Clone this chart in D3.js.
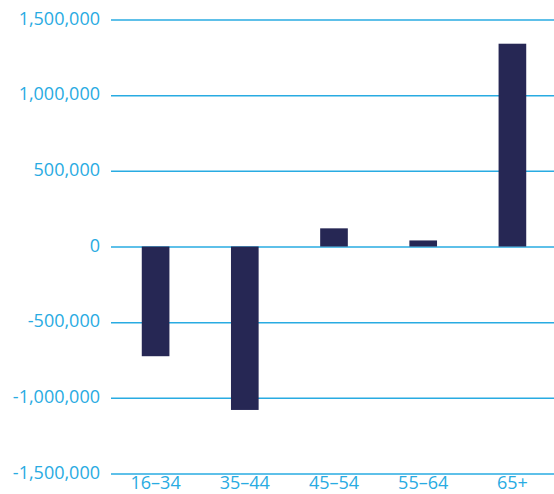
<!DOCTYPE html>
<html>
<head>
<meta charset="utf-8">
<script src="https://cdn.jsdelivr.net/npm/d3@7"></script>
<style>
  body { margin: 0; background: #fff; }
  svg { display: block; font-family: "Open Sans", sans-serif; }
</style>
</head>
<body>
<div id="chart"></div>
<script>
// Data
const ageGroups = ["16–34", "35–44", "45–54", "55–64", "65+"];
const changeValues = [-725000, -1080000, 120000, 40000, 1340000];
const yTicks = [-1500000, -1000000, -500000, 0, 500000, 1000000, 1500000];

const BLUE = "#29abe2";
const BAR_COLOR = "#262754";

const width = 554, height = 494;

const svg = d3.select("#chart")
  .append("svg")
    .attr("width", width)
    .attr("height", height);

// Scales
const xScale = d3.scaleBand()
  .domain(ageGroups)
  .range([111, 557])
  .paddingInner(0.69)
  .paddingOuter(0.345);

const yScale = d3.scaleLinear()
  .domain([-1500000, 1500000])
  .range([473.5, 19.5]);

// plain hyphen for negatives, like the original
const fmt = d3.formatLocale({ decimal: ".", thousands: ",", grouping: [3], currency: ["", ""], minus: "-" }).format(",");

// Gridlines + y labels
const yAxis = svg.append("g")
  .attr("transform", "translate(111,0)")
  .call(d3.axisLeft(yScale)
    .tickValues(yTicks)
    .tickSize(-(width - 111))
    .tickPadding(11)
    .tickFormat(d => fmt(d)));

yAxis.select(".domain").remove();
yAxis.selectAll(".tick line")
  .attr("stroke", BLUE)
  .attr("stroke-width", 1.5);
yAxis.selectAll(".tick text")
  .attr("fill", BLUE)
  .attr("font-size", 18)
  .attr("font-family", "Open Sans, sans-serif")
  .attr("dy", "0.26em");

// Bars
svg.selectAll(".bar")
  .data(changeValues)
  .enter()
  .append("rect")
    .attr("class", "bar")
    .attr("x", (d, i) => xScale(ageGroups[i]))
    .attr("width", xScale.bandwidth())
    .attr("y", d => yScale(Math.max(0, d)))
    .attr("height", d => Math.abs(yScale(d) - yScale(0)))
    .attr("fill", BAR_COLOR);

// X labels
svg.selectAll(".x-label")
  .data(ageGroups)
  .enter()
  .append("text")
    .attr("class", "x-label")
    .attr("x", d => xScale(d) + xScale.bandwidth() / 2)
    .attr("y", 488.5)
    .attr("text-anchor", "middle")
    .attr("fill", BLUE)
    .attr("font-size", 18)
    .text(d => d);
</script>
</body>
</html>
